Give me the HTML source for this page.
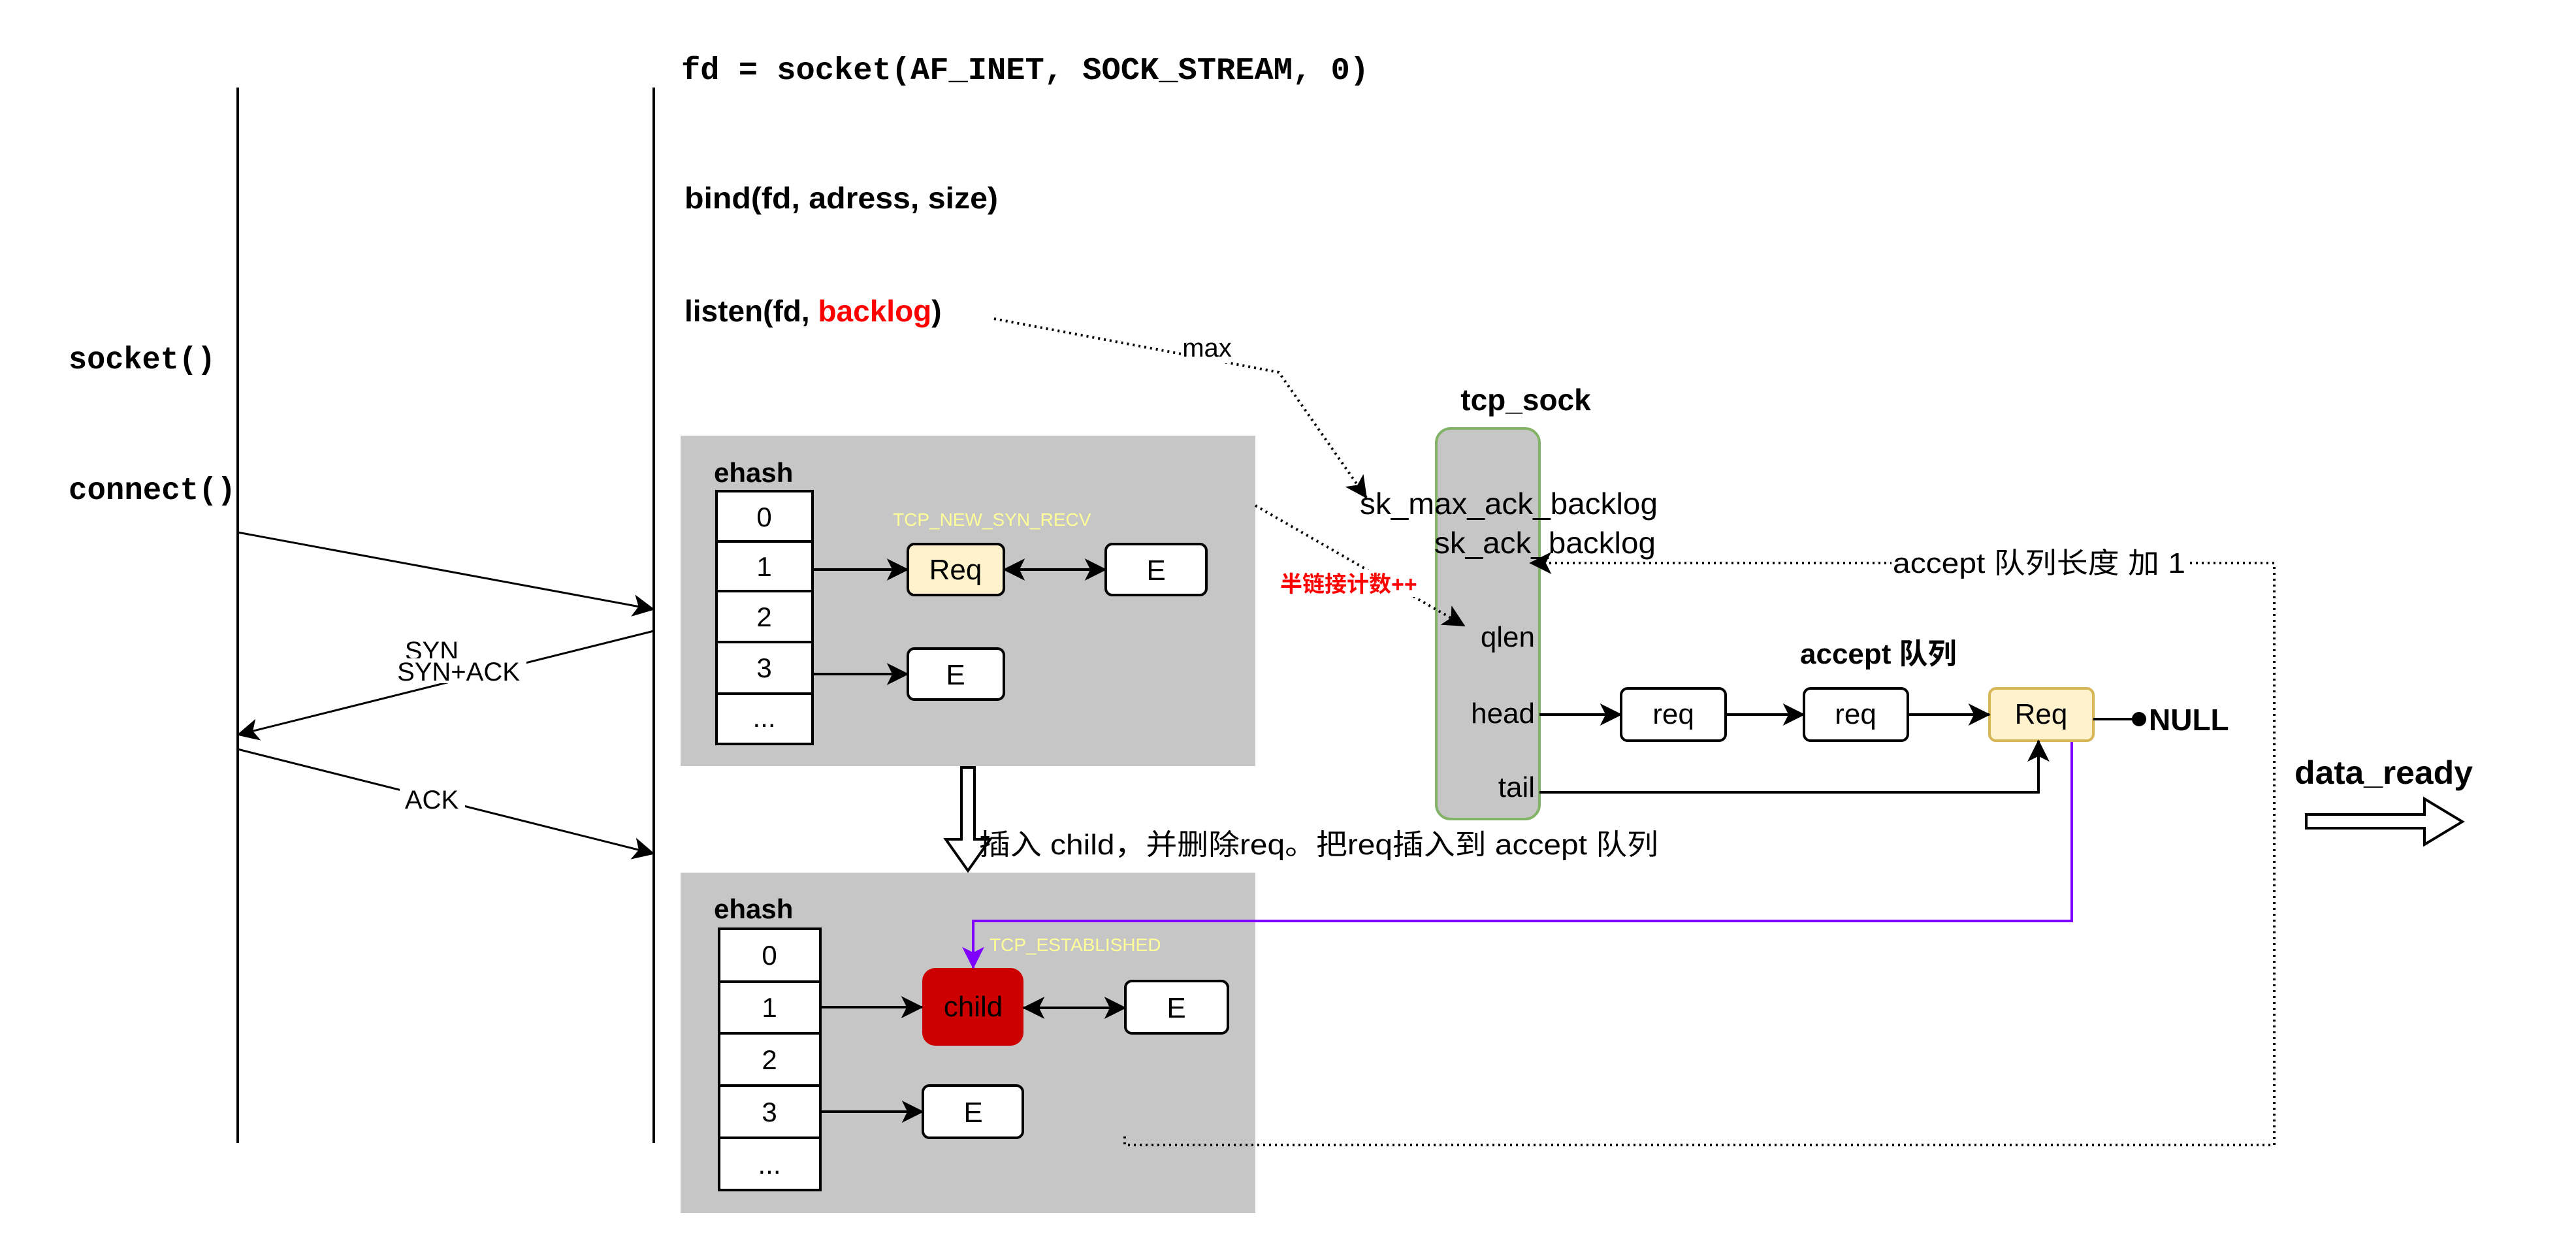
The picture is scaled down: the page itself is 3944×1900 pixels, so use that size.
<!DOCTYPE html>
<html><head><meta charset="utf-8"><style>
html,body{margin:0;padding:0;background:#fff;}
svg{display:block;}
text{font-family:"Liberation Sans","Noto Sans CJK SC",sans-serif;}
.mono{font-family:"Liberation Mono","DejaVu Sans Mono",monospace;font-weight:bold;}
</style></head><body>
<svg width="3944" height="1900" viewBox="0 0 3944 1900" xmlns="http://www.w3.org/2000/svg">
<defs>
<marker id="b" viewBox="0 0 20 20" refX="19" refY="10" markerWidth="34" markerHeight="34" markerUnits="userSpaceOnUse" orient="auto-start-reverse">
<path d="M0,0 L20,10 L0,20 L5,10 Z" fill="#000"/></marker>
<marker id="p" viewBox="0 0 20 20" refX="19" refY="10" markerWidth="34" markerHeight="34" markerUnits="userSpaceOnUse" orient="auto">
<path d="M0,0 L20,10 L0,20 L5,10 Z" fill="#7f00ff"/></marker>
</defs>

<line x1="364" y1="134" x2="364" y2="1750" stroke="#000" stroke-width="4"/>
<line x1="1001" y1="134" x2="1001" y2="1750" stroke="#000" stroke-width="4"/>

<text x="1043" y="121" class="mono" font-size="48" textLength="1053" lengthAdjust="spacingAndGlyphs">fd = socket(AF_INET, SOCK_STREAM, 0)</text>
<text x="1048" y="319" font-size="46" font-weight="bold" textLength="480" lengthAdjust="spacingAndGlyphs">bind(fd, adress, size)</text>
<text x="1048" y="492" font-size="46" font-weight="bold">listen(fd, <tspan fill="#ff0000">backlog</tspan>)</text>
<text x="105" y="564" class="mono" font-size="48" textLength="225" lengthAdjust="spacingAndGlyphs">socket()</text>
<text x="105" y="764" class="mono" font-size="48" textLength="256" lengthAdjust="spacingAndGlyphs">connect()</text>

<line x1="364" y1="815" x2="1001" y2="933" stroke="#000" stroke-width="3" marker-end="url(#b)"/>
<line x1="1001" y1="966" x2="364" y2="1125" stroke="#000" stroke-width="3" marker-end="url(#b)"/>
<line x1="364" y1="1147" x2="1001" y2="1307" stroke="#000" stroke-width="3" marker-end="url(#b)"/>
<text x="661" y="1010" font-size="40" text-anchor="middle">SYN</text>
<rect x="600" y="1008" width="206" height="38" fill="#fff"/>
<text x="702" y="1042" font-size="40" text-anchor="middle">SYN+ACK</text>
<rect x="612" y="1204" width="100" height="40" fill="#fff"/>
<text x="661" y="1238" font-size="40" text-anchor="middle">ACK</text>

<rect x="1042" y="667" width="880" height="506" fill="#c6c6c6"/>
<text x="1093" y="738" font-size="42" font-weight="bold">ehash</text>
<g stroke="#000" stroke-width="4" fill="#fff">
<rect x="1097" y="752" width="147" height="77"/><rect x="1097" y="829" width="147" height="76"/>
<rect x="1097" y="905" width="147" height="78"/><rect x="1097" y="983" width="147" height="79"/>
<rect x="1097" y="1062" width="147" height="77"/>
</g>
<g font-size="42" text-anchor="middle">
<text x="1170" y="806">0</text><text x="1170" y="882">1</text><text x="1170" y="959">2</text><text x="1170" y="1037">3</text><text x="1170" y="1113">...</text>
</g>
<text x="1367" y="805" font-size="28" fill="#ffff99">TCP_NEW_SYN_RECV</text>
<rect x="1390" y="833" width="147" height="78" rx="10" fill="#fff2cc" stroke="#000" stroke-width="4"/>
<text x="1463" y="887" font-size="44" text-anchor="middle">Req</text>
<rect x="1693" y="833" width="154" height="78" rx="10" fill="#fff" stroke="#000" stroke-width="4"/>
<text x="1770" y="888" font-size="44" text-anchor="middle">E</text>
<rect x="1390" y="993" width="147" height="78" rx="10" fill="#fff" stroke="#000" stroke-width="4"/>
<text x="1463" y="1048" font-size="44" text-anchor="middle">E</text>
<line x1="1244" y1="872" x2="1390" y2="872" stroke="#000" stroke-width="4" marker-end="url(#b)"/>
<line x1="1244" y1="1032" x2="1390" y2="1032" stroke="#000" stroke-width="4" marker-end="url(#b)"/>
<line x1="1537" y1="872" x2="1693" y2="872" stroke="#000" stroke-width="4" marker-start="url(#b)" marker-end="url(#b)"/>

<path d="M1472,1175 L1492,1175 L1492,1285 L1516,1285 L1482,1333 L1448,1285 L1472,1285 Z" fill="#fff" stroke="#000" stroke-width="4"/>
<text x="1499" y="1308" font-size="44" textLength="1040" lengthAdjust="spacingAndGlyphs">插入 child，并删除req。把req插入到 accept 队列</text>

<rect x="1042" y="1336" width="880" height="521" fill="#c6c6c6"/>
<text x="1093" y="1406" font-size="42" font-weight="bold">ehash</text>
<g stroke="#000" stroke-width="4" fill="#fff">
<rect x="1101" y="1422" width="155" height="81"/><rect x="1101" y="1503" width="155" height="79"/>
<rect x="1101" y="1582" width="155" height="80"/><rect x="1101" y="1662" width="155" height="80"/>
<rect x="1101" y="1742" width="155" height="80"/>
</g>
<g font-size="42" text-anchor="middle">
<text x="1178" y="1477">0</text><text x="1178" y="1557">1</text><text x="1178" y="1637">2</text><text x="1178" y="1717">3</text><text x="1178" y="1797">...</text>
</g>
<text x="1515" y="1456" font-size="28" fill="#ffff99">TCP_ESTABLISHED</text>
<rect x="1412" y="1482" width="155" height="119" rx="20" fill="#cc0000"/>
<text x="1490" y="1556" font-size="44" text-anchor="middle">child</text>
<rect x="1723" y="1502" width="157" height="80" rx="10" fill="#fff" stroke="#000" stroke-width="4"/>
<text x="1801" y="1558" font-size="44" text-anchor="middle">E</text>
<rect x="1413" y="1662" width="153" height="80" rx="10" fill="#fff" stroke="#000" stroke-width="4"/>
<text x="1490" y="1718" font-size="44" text-anchor="middle">E</text>
<line x1="1256" y1="1542" x2="1412" y2="1542" stroke="#000" stroke-width="4" marker-end="url(#b)"/>
<line x1="1256" y1="1702" x2="1413" y2="1702" stroke="#000" stroke-width="4" marker-end="url(#b)"/>
<line x1="1567" y1="1543" x2="1723" y2="1543" stroke="#000" stroke-width="4" marker-start="url(#b)" marker-end="url(#b)"/>

<polyline points="3172,1134 3172,1410 1490,1410 1490,1482" fill="none" stroke="#7f00ff" stroke-width="4" marker-end="url(#p)"/>

<text x="2336" y="628" font-size="46" font-weight="bold" text-anchor="middle">tcp_sock</text>
<rect x="2199" y="656" width="158" height="598" rx="22" fill="#c6c6c6" stroke="#82b366" stroke-width="4"/>
<text x="2082" y="787" font-size="46" textLength="456" lengthAdjust="spacingAndGlyphs">sk_max_ack_backlog</text>
<text x="2196" y="847" font-size="46" textLength="339" lengthAdjust="spacingAndGlyphs">sk_ack_backlog</text>
<text x="2350" y="990" font-size="44" text-anchor="end">qlen</text>
<text x="2350" y="1107" font-size="44" text-anchor="end">head</text>
<text x="2350" y="1220" font-size="44" text-anchor="end">tail</text>

<polyline points="1522,488 1958,570 2092,762" fill="none" stroke="#000" stroke-width="4" stroke-dasharray="3,6" marker-end="url(#b)"/>
<rect x="1816" y="512" width="64" height="44" fill="#fff"/>
<text x="1848" y="546" font-size="40" text-anchor="middle">max</text>
<polyline points="1922,774 2242,958" fill="none" stroke="#000" stroke-width="4" stroke-dasharray="3,6" marker-end="url(#b)"/>
<rect x="1960" y="872" width="220" height="42" fill="#fff"/>
<text x="1960" y="906" font-size="34" font-weight="bold" fill="#ff0000">半链接计数++</text>
<polyline points="1722,1740 1722,1753 3482,1753 3482,862 2343,862" fill="none" stroke="#000" stroke-width="4" stroke-dasharray="3,6" marker-end="url(#b)"/>
<rect x="2896" y="836" width="452" height="52" fill="#fff"/>
<text x="2898" y="877" font-size="44" textLength="448" lengthAdjust="spacingAndGlyphs">accept 队列长度 加 1</text>

<text x="2756" y="1016" font-size="44" font-weight="bold">accept 队列</text>
<rect x="2482" y="1054" width="160" height="80" rx="10" fill="#fff" stroke="#000" stroke-width="4"/>
<text x="2562" y="1108" font-size="44" text-anchor="middle">req</text>
<rect x="2762" y="1054" width="159" height="80" rx="10" fill="#fff" stroke="#000" stroke-width="4"/>
<text x="2841" y="1108" font-size="44" text-anchor="middle">req</text>
<rect x="3046" y="1054" width="159" height="80" rx="10" fill="#fff2cc" stroke="#d6b656" stroke-width="4"/>
<text x="3125" y="1108" font-size="44" text-anchor="middle">Req</text>
<line x1="2357" y1="1094" x2="2482" y2="1094" stroke="#000" stroke-width="4" marker-end="url(#b)"/>
<line x1="2642" y1="1094" x2="2762" y2="1094" stroke="#000" stroke-width="4" marker-end="url(#b)"/>
<line x1="2921" y1="1094" x2="3046" y2="1094" stroke="#000" stroke-width="4" marker-end="url(#b)"/>
<polyline points="2357,1213 3121,1213 3121,1134" fill="none" stroke="#000" stroke-width="4" marker-end="url(#b)"/>
<line x1="3205" y1="1101" x2="3271" y2="1101" stroke="#000" stroke-width="4"/>
<circle cx="3275" cy="1101" r="11" fill="#000"/>
<text x="3290" y="1118" font-size="46" font-weight="bold">NULL</text>

<text x="3513" y="1200" font-size="50" font-weight="bold" textLength="273" lengthAdjust="spacingAndGlyphs">data_ready</text>
<path d="M3531,1247 L3712,1247 L3712,1223 L3770,1258 L3712,1293 L3712,1268 L3531,1268 Z" fill="#fff" stroke="#000" stroke-width="4"/>
</svg>
</body></html>
